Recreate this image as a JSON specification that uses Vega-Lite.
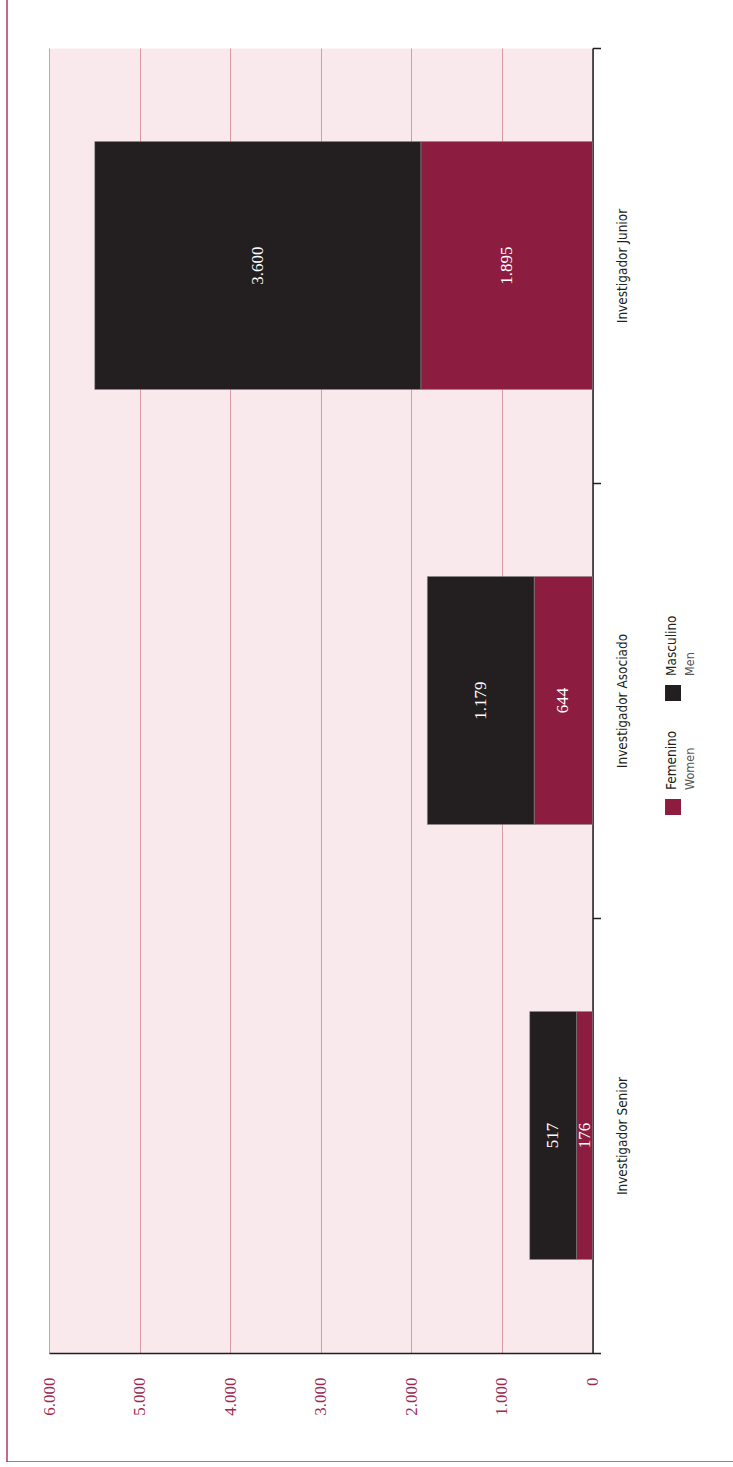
{
  "$schema": "https://vega.github.io/schema/vega-lite/v6.json",
  "autosize": "none",
  "padding": {"left": 7, "top": -61, "right": 0, "bottom": 0},
  "width": 740,
  "height": 1523,
  "background": "white",
  "view": {"stroke": "#b03a63", "strokeWidth": 1.5, "fill": "white"},
  "config": {
    "locale": {"number": {"decimal": ",", "thousands": ".", "grouping": [3], "currency": ["", " €"]}}
  },
  "datasets": {
    "investigadores": [
      {"categoria": "Investigador Junior", "sexo": "Femenino", "orden": 1, "valor": 1895},
      {"categoria": "Investigador Junior", "sexo": "Masculino", "orden": 2, "valor": 3600},
      {"categoria": "Investigador Asociado", "sexo": "Femenino", "orden": 1, "valor": 644},
      {"categoria": "Investigador Asociado", "sexo": "Masculino", "orden": 2, "valor": 1179},
      {"categoria": "Investigador Senior", "sexo": "Femenino", "orden": 1, "valor": 176},
      {"categoria": "Investigador Senior", "sexo": "Masculino", "orden": 2, "valor": 517}
    ],
    "leyenda": [
      {"sexo": "Femenino", "en": "Women"},
      {"sexo": "Masculino", "en": "Men"}
    ]
  },
  "resolve": {"scale": {"yOffset": "independent"}},
  "layer": [
    {
      "data": {"name": "investigadores"},
      "transform": [
        {"stack": "valor", "groupby": ["categoria"], "sort": [{"field": "orden", "order": "ascending"}], "as": ["v0", "v1"]},
        {"calculate": "(datum.v0 + datum.v1) / 2", "as": "medio"}
      ],
      "layer": [
        {
          "mark": {"type": "bar", "height": {"band": 0.57}, "stroke": "#8a8a8a", "strokeWidth": 0.5},
          "encoding": {
            "x": {
              "field": "v0", "type": "quantitative",
              "scale": {"domain": [0, 6000], "range": [585.5, 42], "nice": false, "zero": true},
              "axis": {
                "orient": "bottom", "offset": -109, "title": null,
                "values": [0, 1000, 2000, 3000, 4000, 5000, 6000],
                "labelExpr": "format(datum.value, ',')",
                "domainColor": "#231f20", "domainWidth": 1.5,
                "ticks": true, "tickSize": -1305, "tickColor": "#d99aa6", "tickWidth": 1,
                "grid": true, "gridColor": "#f9e9ec",
                "gridWidth": {"condition": {"test": "datum.value === 3000", "value": 543.5}, "value": 0},
                "gridOpacity": {"condition": {"test": "datum.value === 3000", "value": 1}, "value": 0},
                "labelAngle": 270, "labelAlign": "right", "labelBaseline": "middle",
                "labelPadding": 1329,
                "labelColor": "#9e2a52", "labelFont": "Liberation Serif", "labelFontSize": 17,
                "labelOverlap": false, "labelFlush": false
              }
            },
            "x2": {"field": "v1"},
            "y": {
              "field": "categoria", "type": "nominal",
              "scale": {"type": "band", "domain": ["Investigador Junior", "Investigador Asociado", "Investigador Senior"], "range": [109, 1414], "paddingInner": 0, "paddingOuter": 0},
              "axis": {
                "orient": "right", "offset": -154.5, "title": null,
                "tickBand": "extent", "grid": false,
                "domainColor": "#231f20", "domainWidth": 1.5,
                "tickColor": "#231f20", "tickSize": 8, "tickWidth": 1.5,
                "labelAngle": 270, "labelAlign": "center", "labelBaseline": "top",
                "labelPadding": 15,
                "labelColor": "#231f20", "labelFont": "Liberation Sans Narrow, DejaVu Sans Condensed, sans-serif", "labelFontSize": 13.5
              }
            },
            "color": {
              "field": "sexo", "type": "nominal",
              "scale": {"domain": ["Femenino", "Masculino"], "range": ["#8c1d40", "#231f20"]},
              "legend": null
            }
          }
        },
        {
          "mark": {"type": "text", "angle": 270, "align": "center", "baseline": "middle", "font": "Liberation Serif", "fontSize": 17, "color": "white"},
          "encoding": {
            "x": {"field": "medio", "type": "quantitative"},
            "y": {"field": "categoria", "type": "nominal"},
            "text": {"field": "valor", "type": "quantitative", "format": ","}
          }
        }
      ]
    },
    {
      "data": {"name": "leyenda"},
      "layer": [
        {
          "mark": {"type": "square", "size": 256, "filled": true, "opacity": 1},
          "encoding": {
            "x": {"datum": -889, "type": "quantitative"},
            "y": {"datum": "Investigador Asociado", "type": "nominal"},
            "yOffset": {"field": "sexo", "type": "nominal", "scale": {"type": "point", "domain": ["Masculino", "Femenino"], "range": [210, 324], "padding": 0}},
            "color": {"field": "sexo", "type": "nominal", "legend": null}
          }
        },
        {
          "mark": {"type": "text", "angle": 270, "align": "left", "baseline": "middle", "dx": 17, "dy": -1, "font": "Liberation Sans Narrow, DejaVu Sans Condensed, sans-serif", "fontSize": 13.5, "color": "#231f20"},
          "encoding": {
            "x": {"datum": -889, "type": "quantitative"},
            "y": {"datum": "Investigador Asociado", "type": "nominal"},
            "yOffset": {"field": "sexo", "type": "nominal"},
            "text": {"field": "sexo"}
          }
        },
        {
          "mark": {"type": "text", "angle": 270, "align": "left", "baseline": "middle", "dx": 17, "dy": 17, "font": "Liberation Sans Narrow, DejaVu Sans Condensed, sans-serif", "fontSize": 12.5, "color": "#555555"},
          "encoding": {
            "x": {"datum": -889, "type": "quantitative"},
            "y": {"datum": "Investigador Asociado", "type": "nominal"},
            "yOffset": {"field": "sexo", "type": "nominal"},
            "text": {"field": "en"}
          }
        }
      ]
    }
  ]
}
